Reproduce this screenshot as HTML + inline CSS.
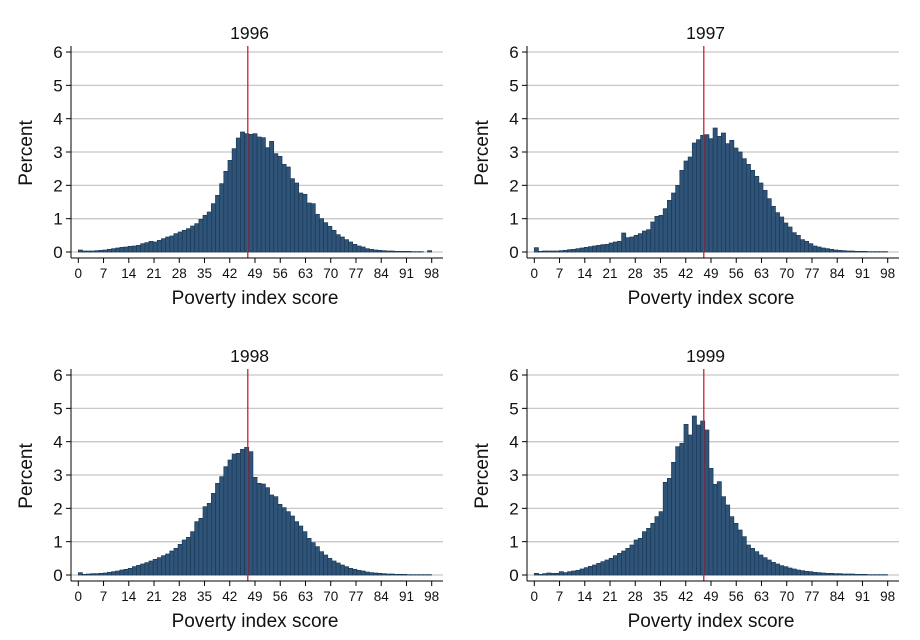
<!DOCTYPE html>
<html><head><meta charset="utf-8"><style>
html,body{margin:0;padding:0;background:#fff;width:920px;height:640px;overflow:hidden}
svg{font-family:"Liberation Sans",sans-serif}
</style></head><body>
<svg id="chart" width="920" height="640" xmlns="http://www.w3.org/2000/svg"></svg>
<script>
const years = ["1996","1997","1998","1999"];
const xTicks = [0,7,14,21,28,35,42,49,56,63,70,77,84,91,98];
const yTicks = [0,1,2,3,4,5,6];
const cutoff = 47;
const nBins = 85;
const v1996 = [.06,.03,.03,.03,.04,.05,.06,.08,.1,.12,.14,.15,.17,.18,.2,.25,.28,.32,.3,.35,.4,.45,.48,.55,.6,.65,.7,.78,.85,.98,1.1,1.2,1.45,1.7,2.05,2.42,2.75,3.1,3.42,3.6,3.55,3.53,3.55,3.45,3.43,3.13,3.32,2.95,2.87,2.63,2.55,2.2,2.07,1.77,1.73,1.47,1.45,1.13,1.0,.88,.77,.65,.52,.45,.37,.3,.23,.18,.15,.1,.08,.06,.05,.04,.03,.03,.02,.02,.02,.02,.01,.01,.01,0,.04];
const v1997 = [.13,.02,.03,.03,.03,.03,.04,.05,.07,.08,.1,.12,.14,.16,.18,.2,.22,.23,.27,.3,.32,.57,.43,.45,.5,.55,.63,.67,.9,1.07,1.1,1.3,1.55,1.77,2.0,2.45,2.73,2.85,3.27,3.37,3.5,3.52,3.4,3.72,3.47,3.57,3.25,3.35,3.12,3.0,2.8,2.63,2.45,2.27,2.07,1.85,1.6,1.37,1.18,1.05,.87,.75,.58,.5,.37,.32,.25,.18,.15,.12,.1,.08,.06,.05,.04,.03,.03,.02,.02,.02,.01,.01,.01,.01,.01];
const v1998 = [.07,.02,.03,.04,.04,.05,.06,.08,.1,.12,.15,.17,.2,.25,.29,.33,.37,.42,.47,.52,.58,.63,.72,.8,.92,1.05,1.13,1.3,1.6,1.7,2.05,2.15,2.45,2.75,2.95,3.25,3.45,3.63,3.65,3.77,3.83,3.7,2.93,2.75,2.73,2.62,2.4,2.35,2.12,2.02,1.9,1.77,1.6,1.47,1.3,1.1,.97,.85,.7,.6,.5,.42,.36,.3,.25,.2,.17,.14,.12,.09,.07,.06,.05,.04,.03,.03,.02,.02,.02,.01,.01,.01,.01,.01,.01];
const v1999 = [.05,.02,.04,.06,.05,.05,.1,.07,.1,.12,.14,.18,.22,.26,.3,.35,.4,.45,.5,.58,.65,.72,.8,.9,1.05,1.1,1.3,1.4,1.55,1.75,1.9,2.78,2.9,3.38,3.85,3.95,4.52,4.2,4.77,4.5,4.62,4.35,3.2,2.72,2.8,2.35,2.1,1.75,1.55,1.35,1.15,.9,.8,.7,.6,.52,.45,.38,.33,.28,.25,.21,.18,.15,.13,.11,.1,.08,.07,.06,.05,.05,.04,.04,.03,.03,.03,.02,.02,.02,.01,.01,.01,.01,.01];
const series = [v1996,v1997,v1998,v1999];

const NS = "http://www.w3.org/2000/svg";
const svg = document.getElementById("chart");
function mk(tag, attrs, parent){
  const e = document.createElementNS(NS, tag);
  for (const k in attrs) e.setAttribute(k, attrs[k]);
  (parent||svg).appendChild(e);
  return e;
}
const panels = [
  {x0:78.3, y0:252, axX:71, axY:258},
  {x0:534.3, y0:252, axX:527, axY:258},
  {x0:78.3, y0:575, axX:71, axY:581},
  {x0:534.3, y0:575, axX:527, axY:581}
];
const pxPerX = 353.4/98, pxPerY = 33.33;

panels.forEach((p, pi) => {
  const g = mk("g", {});
  
  
  const xs = v => p.x0 + v*pxPerX;
  const ys = v => p.y0 - v*pxPerY;
  const right = p.axX + 372;
  // gridlines
  yTicks.forEach(t => {
    const l = mk("line", {x1:p.axX, x2:right, y1:ys(t), y2:ys(t), stroke:"#c8c8c8", "stroke-width":1.3}, g);
    
    
  });
  // bars
  const vals = series[pi];
  const bw = 98/nBins;
  vals.forEach((v, i) => {
    const x1 = xs(i*bw), x2 = xs((i+1)*bw);
    const r = mk("rect", {x:x1, y:ys(v), width:x2-x1, height:Math.max(0, p.y0 - ys(v)), fill:"#2f5478", stroke:"#1b3a59", "stroke-width":0.7}, g);
    
    
  });
  // cutoff line
  const cl = mk("line", {x1:xs(cutoff), x2:xs(cutoff), y1:p.axY-212, y2:p.axY, stroke:"#c8203a", "stroke-width":1.3}, g);
  
  
  // axes
  const ya = mk("line", {x1:p.axX, x2:p.axX, y1:p.axY-212, y2:p.axY, stroke:"#000", "stroke-width":1}, g);
  
  
  const xa = mk("line", {x1:p.axX, x2:right, y1:p.axY, y2:p.axY, stroke:"#000", "stroke-width":1}, g);
  
  
  yTicks.forEach(t => {
    mk("line", {x1:p.axX-5, x2:p.axX, y1:ys(t), y2:ys(t), stroke:"#000"}, g);
    const tl = mk("text", {x:p.axX-13, y:ys(t)+6, "text-anchor":"middle", "font-size":17, fill:"#111"}, g);
    tl.textContent = t;
    
    
  });
  xTicks.forEach(t => {
    mk("line", {x1:xs(t), x2:xs(t), y1:p.axY, y2:p.axY+5, stroke:"#000"}, g);
    const tl = mk("text", {x:xs(t), y:p.axY+20, "text-anchor":"middle", "font-size":13.5, fill:"#111"}, g);
    tl.textContent = t;
    
    
  });
  const title = mk("text", {x:xs(47.5), y:p.axY-219, "text-anchor":"middle", "font-size":17.5, fill:"#111"}, g);
  title.textContent = years[pi];
  
  
  const xt = mk("text", {x:xs(49), y:p.axY+46, "text-anchor":"middle", "font-size":19, fill:"#111"}, g);
  xt.textContent = "Poverty index score";
  
  
  const cy = p.axY - 105, cx = p.axX - 39;
  const yt = mk("text", {x:cx, y:cy, "text-anchor":"middle", "font-size":19, fill:"#111", transform:"rotate(-90 "+cx+" "+cy+")"}, g);
  yt.textContent = "Percent";
  
  
});
</script>
</body></html>
